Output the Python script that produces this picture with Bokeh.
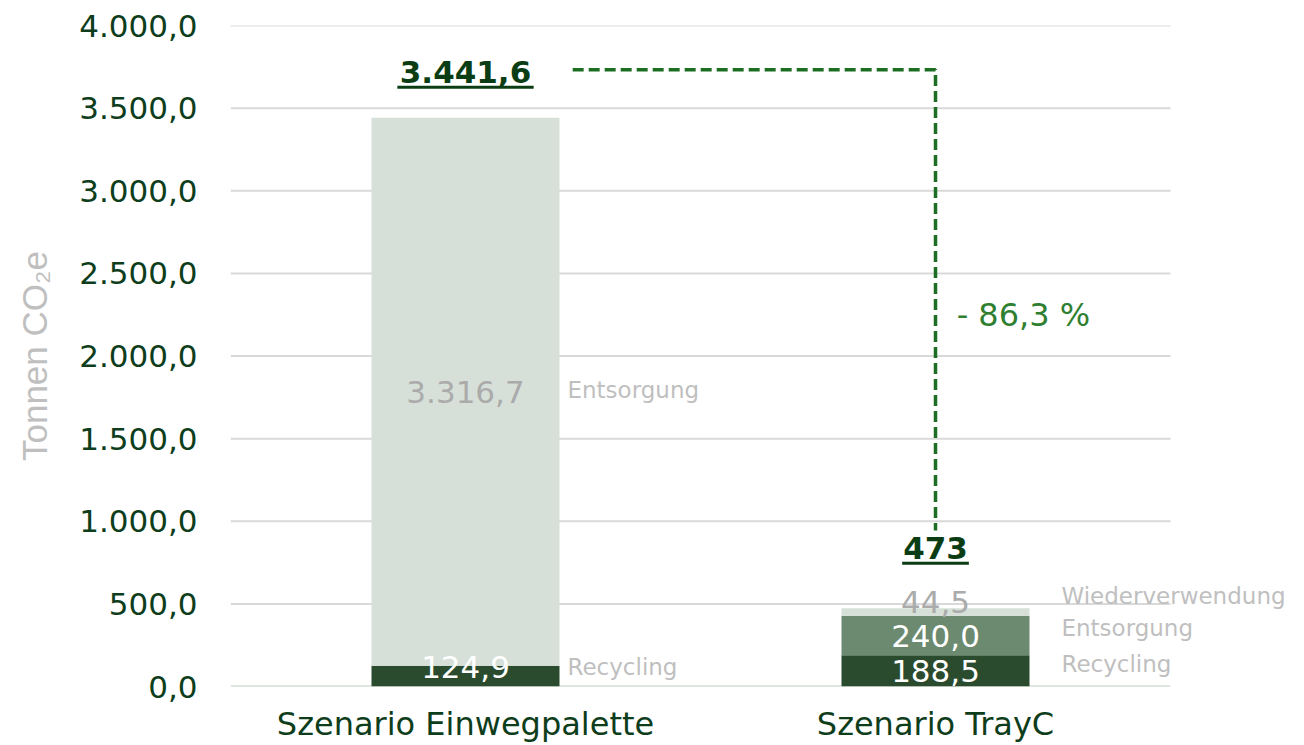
import math
from bokeh.plotting import figure
from bokeh.models import Range1d, FixedTicker, ColumnDataSource
from bokeh.core.properties import value
from bokeh.embed import file_html
from bokeh.resources import INLINE

# ---------------- data ----------------
scenarios = ["Szenario Einwegpalette", "Szenario TrayC"]
segment_names = ["Recycling", "Entsorgung", "Wiederverwendung"]
einwegpalette = [124.9, 3316.7, 0.0]
trayc = [188.5, 240.0, 44.5]
y_ticks = [0, 500, 1000, 1500, 2000, 2500, 3000, 3500, 4000]
y_axis_title = "Tonnen CO\u2082e"

# ---------------- styles ----------------
FONT = "DejaVu Sans"
DARK_TXT = "#0E3D1B"
seg_colors = [["#2B4B2E", "#D6E0D8", "#D6E0D8"], ["#2B4B2E", "#6B8A6F", "#D6E0D8"]]
val_colors = [["#FFFFFF", "#ABABAB", "#ABABAB"], ["#FFFFFF", "#FFFFFF", "#ABABAB"]]
val_adjust = [[53, 0, 0], [0, 0, 63]]        # label nudges (data units)
name_adjust = [[53, 8, 0], [42, 43, 97]]
name_x_offset = [0.017, 0.068]               # from bar edge (x units)
total_adjust = [280, 368]
underline_half = [0.145, 0.071]
BAR_W = 0.4
PLOT_LEFT, PLOT_RIGHT, W, H = 230, 1170, 1304, 745


def de(v, d=1):
    s = f"{v:,.{d}f}"
    return s.replace(",", "X").replace(".", ",").replace("X", ".")


values = [einwegpalette, trayc]
n = len(scenarios)
x_end = n * (W - PLOT_LEFT) / (PLOT_RIGHT - PLOT_LEFT)

# ---------------- figure ----------------
p = figure(width=W, height=H, output_backend="svg", toolbar_location=None,
           x_range=Range1d(0, x_end), y_range=Range1d(y_ticks[0], y_ticks[-1]),
           min_border_left=PLOT_LEFT, min_border_right=0, min_border_top=25, min_border_bottom=59)
p.outline_line_color = None
p.background_fill_color = "white"
p.border_fill_color = "white"
p.xgrid.grid_line_color = None
p.ygrid.grid_line_color = None

# horizontal grid lines across the category area only
p.segment(x0=[0] * (len(y_ticks) - 1), x1=[n] * (len(y_ticks) - 1), y0=y_ticks[1:], y1=y_ticks[1:],
          line_color="#D9D9D9", line_width=2)
p.segment(x0=[0], x1=[n], y0=[y_ticks[0]], y1=[y_ticks[0]], line_color="#BFCBC0", line_width=2)

# y axis
p.yaxis.ticker = FixedTicker(ticks=y_ticks)
p.yaxis.major_label_overrides = {t: de(t, 1) for t in y_ticks}
p.yaxis.axis_line_color = None
p.yaxis.major_tick_line_color = None
p.yaxis.minor_tick_line_color = None
p.yaxis.major_label_standoff = 27
p.yaxis.major_label_text_font = FONT
p.yaxis.major_label_text_font_size = "31px"
p.yaxis.major_label_text_color = DARK_TXT
p.yaxis.axis_label = y_axis_title
p.yaxis.axis_label_standoff = 22
p.yaxis.axis_label_text_font = "Liberation Sans"
p.yaxis.axis_label_text_font_style = "normal"
p.yaxis.axis_label_text_font_size = "35px"
p.yaxis.axis_label_text_color = "#BFBFBF"

# x axis
xt = [i + 0.5 for i in range(n)]
p.xaxis.ticker = FixedTicker(ticks=xt)
p.xaxis.major_label_overrides = {x: s for x, s in zip(xt, scenarios)}
p.xaxis.axis_line_color = None
p.xaxis.major_tick_line_color = None
p.xaxis.minor_tick_line_color = None
p.xaxis.major_label_standoff = 12
p.xaxis.major_label_text_font = FONT
p.xaxis.major_label_text_font_size = "32px"
p.xaxis.major_label_text_color = DARK_TXT

# ---------------- bars ----------------
bx, bb, bt, bc = [], [], [], []
vx, vy, vt, vc = [], [], [], []
nx, ny, nt = [], [], []
for i, vals in enumerate(values):
    bottom = 0.0
    for j, v in enumerate(vals):
        if v <= 0:
            continue
        top = bottom + v
        bx.append(i + 0.5); bb.append(bottom); bt.append(top); bc.append(seg_colors[i][j])
        vx.append(i + 0.5); vy.append(bottom + v / 2 + val_adjust[i][j])
        vt.append(de(v, 1)); vc.append(val_colors[i][j])
        nx.append(i + 0.5 + BAR_W / 2 + name_x_offset[i])
        ny.append(bottom + v / 2 + name_adjust[i][j]); nt.append(segment_names[j])
        bottom = top

p.vbar(x="x", bottom="b", top="t", width=BAR_W, color="c", line_color=None,
       source=ColumnDataSource(dict(x=bx, b=bb, t=bt, c=bc)))

p.text(x="x", y="y", text="t", text_color="c",
       source=ColumnDataSource(dict(x=vx, y=vy, t=vt, c=vc)),
       text_align="center", text_baseline="middle",
       text_font=value(FONT), text_font_size="31px")
p.text(x="x", y="y", text="t",
       source=ColumnDataSource(dict(x=nx, y=ny, t=nt)),
       text_align="left", text_baseline="middle", text_color="#BFBFBF",
       text_font=value(FONT), text_font_size="23px")

# totals
totals = [sum(v) for v in values]
tot_txt = [de(t, 0 if abs(t - round(t)) < 1e-6 else 1) for t in totals]
tot_y = [t + a for t, a in zip(totals, total_adjust)]
tot_x = [i + 0.5 for i in range(len(totals))]
p.text(x="x", y="y", text="t",
       source=ColumnDataSource(dict(x=tot_x, y=tot_y, t=tot_txt)),
       text_align="center", text_baseline="middle", text_color="#0B3D14",
       text_font=value(FONT), text_font_size="31px", text_font_style="bold")
p.segment(x0=[x - h for x, h in zip(tot_x, underline_half)], x1=[x + h for x, h in zip(tot_x, underline_half)],
          y0=[y - 95 for y in tot_y], y1=[y - 95 for y in tot_y], line_color="#0B3D14", line_width=3)

# reduction connector
line_y = totals[0] + 290
p.line(x=[tot_x[0] + 0.228, tot_x[1], tot_x[1]], y=[line_y, line_y, totals[1] + 471],
       line_color="#1B6E22", line_width=3.5, line_dash="11 5")
pct = (1 - totals[1] / totals[0]) * 100
p.text(x=[tot_x[1] + 0.045], y=[(line_y + totals[1] + 471) / 2 - 90],
       text=[f"- {de(pct, 1)} %"], text_align="left", text_baseline="middle",
       text_color="#2F7F31", text_font=value(FONT), text_font_size="32px")

open("out.html", "w").write(file_html(p, INLINE))
